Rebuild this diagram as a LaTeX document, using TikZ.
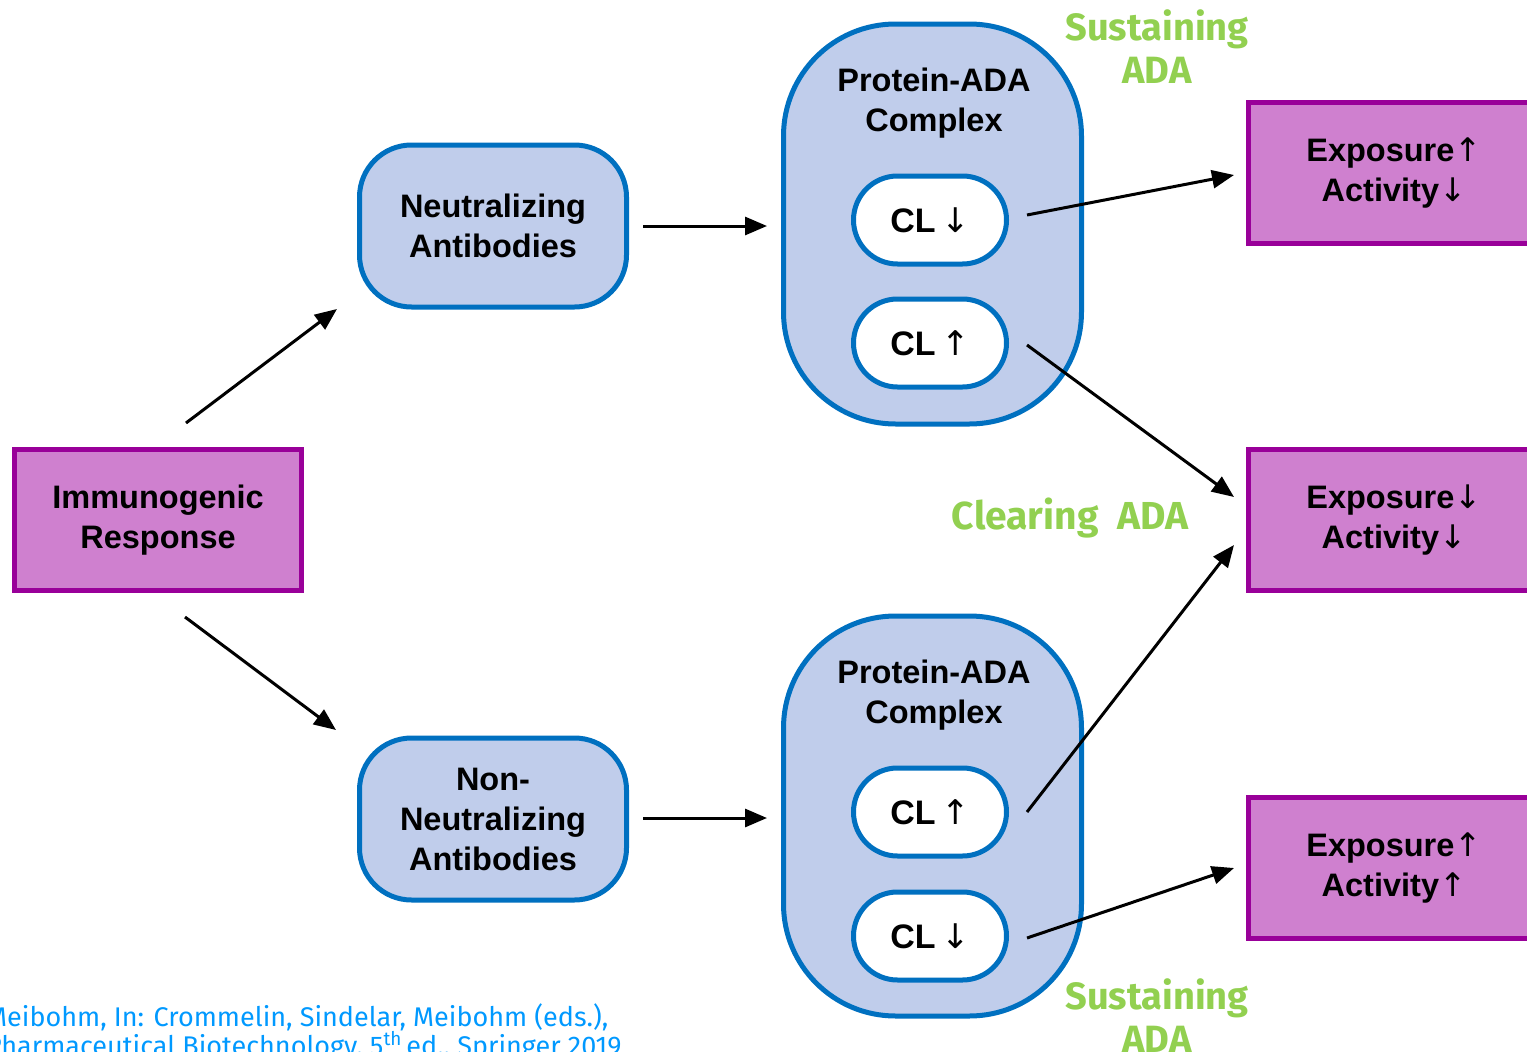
\documentclass[tikz,border=0pt]{standalone}
\usepackage{fontspec}
\setmainfont{Liberation Sans}
\newfontfamily\arr{DejaVu Sans}
\newfontfamily\comic{Fira Sans}
\usetikzlibrary{arrows.meta}
\definecolor{boxblue}{RGB}{192,205,235}
\definecolor{edgeblue}{RGB}{0,112,192}
\definecolor{boxpurple}{RGB}{207,128,207}
\definecolor{edgepurple}{RGB}{153,0,153}
\definecolor{adagreen}{RGB}{146,208,80}
\definecolor{citeblue}{RGB}{0,153,255}
\newcommand{\upar}{{\mdseries\arr ↑}}
\newcommand{\dnar}{{\mdseries\arr ↓}}
\tikzset{
  maintext/.style={font=\fontsize{32.5}{40}\selectfont\bfseries, align=center, text=black},
  purplebox/.style={maintext, draw=edgepurple, fill=boxpurple, line width=5pt, minimum width=287pt, minimum height=141pt},
  abbox/.style={maintext, draw=edgeblue, fill=boxblue, line width=5pt, rounded corners=52pt, minimum width=267pt, minimum height=162pt},
  complexbox/.style={draw=edgeblue, fill=boxblue, line width=5pt, rounded corners=112pt, minimum width=298pt, minimum height=400pt},
  pill/.style={maintext, font=\fontsize{34}{40}\selectfont\bfseries, draw=edgeblue, fill=white, line width=5pt, rounded corners=44pt, minimum width=153pt, minimum height=88pt},
  plain/.style={maintext},
  green/.style={font=\comic\bfseries\fontsize{38}{43}\selectfont, text=adagreen, align=center},
  flow/.style={line width=3pt, -{Triangle[length=22pt,width=18pt]}}
}
\begin{document}
\begin{tikzpicture}[x=1pt,y=-1pt]
\useasboundingbox (0,0) rectangle (1527,1052);
\fill[white] (0,0) rectangle (1527,1052);

% left
\node[purplebox] (imm) at (158,520) {Immunogenic\\Response};
\node[abbox] (neu) at (493,226) {Neutralizing\\Antibodies};
\node[abbox] (non) at (493,819) {Non-\\Neutralizing\\Antibodies};

% complexes
\node[complexbox] (cpxa) at (932.5,224) {};
\node[plain] (cpxat) at (934,103) {Protein-ADA\\Complex};
\node[pill] (cla) at (930,220) {CL\,\dnar};
\node[pill] (clb) at (930,343) {CL\,\upar};

\node[complexbox] (cpxb) at (932.5,816) {};
\node[plain] (cpxbt) at (934,695) {Protein-ADA\\Complex};
\node[pill] (clc) at (930,812) {CL\,\upar};
\node[pill] (cld) at (930,936) {CL\,\dnar};

% outcome boxes (cut at right edge)
\node[purplebox, minimum width=300pt] (expa) at (1398,172.5) {};
\node[plain] (expat) at (1394,173) {Exposure\upar\\Activity\dnar};
\node[purplebox, minimum width=300pt] (expb) at (1398,520) {};
\node[plain] (expbt) at (1394,520) {Exposure\dnar\\Activity\dnar};
\node[purplebox, minimum width=300pt] (expc) at (1398,868) {};
\node[plain] (expct) at (1394,868) {Exposure\upar\\Activity\upar};

% green labels
\node[green] (susa) at (1157,47) {Sustaining\\ADA};
\node[green, font=\comic\bfseries\fontsize{39}{43}\selectfont] (clr) at (1070,518) {Clearing\ \ ADA};
\node[green] (susb) at (1157,1016) {Sustaining\\ADA};

% citation
\node[anchor=base west, inner sep=0pt, text=citeblue, align=left,
      font=\comic\fontsize{27}{27}\selectfont] (cite) at (-14,1055)
  {Meibohm, In: Crommelin, Sindelar, Meibohm (eds.),\\Pharmaceutical Biotechnology, 5\textsuperscript{th}\,ed., Springer 2019};

% connector end points
\coordinate (a1) at (186,423); \coordinate (a2) at (337,309);
\coordinate (b1) at (185,617); \coordinate (b2) at (336,730);
\coordinate (c1) at (643,226); \coordinate (c2) at (767,226);
\coordinate (d1) at (643,818); \coordinate (d2) at (767,818);
\coordinate (e1) at (1027,215); \coordinate (e2) at (1234,175);
\coordinate (f1) at (1027,345); \coordinate (f2) at (1234,497);
\coordinate (g1) at (1027,812); \coordinate (g2) at (1234,545);
\coordinate (h1) at (1027,938); \coordinate (h2) at (1234,868);

\draw[flow] (a1) -- (a2);
\draw[flow] (b1) -- (b2);
\draw[flow] (c1) -- (c2);
\draw[flow] (d1) -- (d2);
\draw[flow] (e1) -- (e2);
\draw[flow] (f1) -- (f2);
\draw[flow] (g1) -- (g2);
\draw[flow] (h1) -- (h2);
\end{tikzpicture}
\end{document}
